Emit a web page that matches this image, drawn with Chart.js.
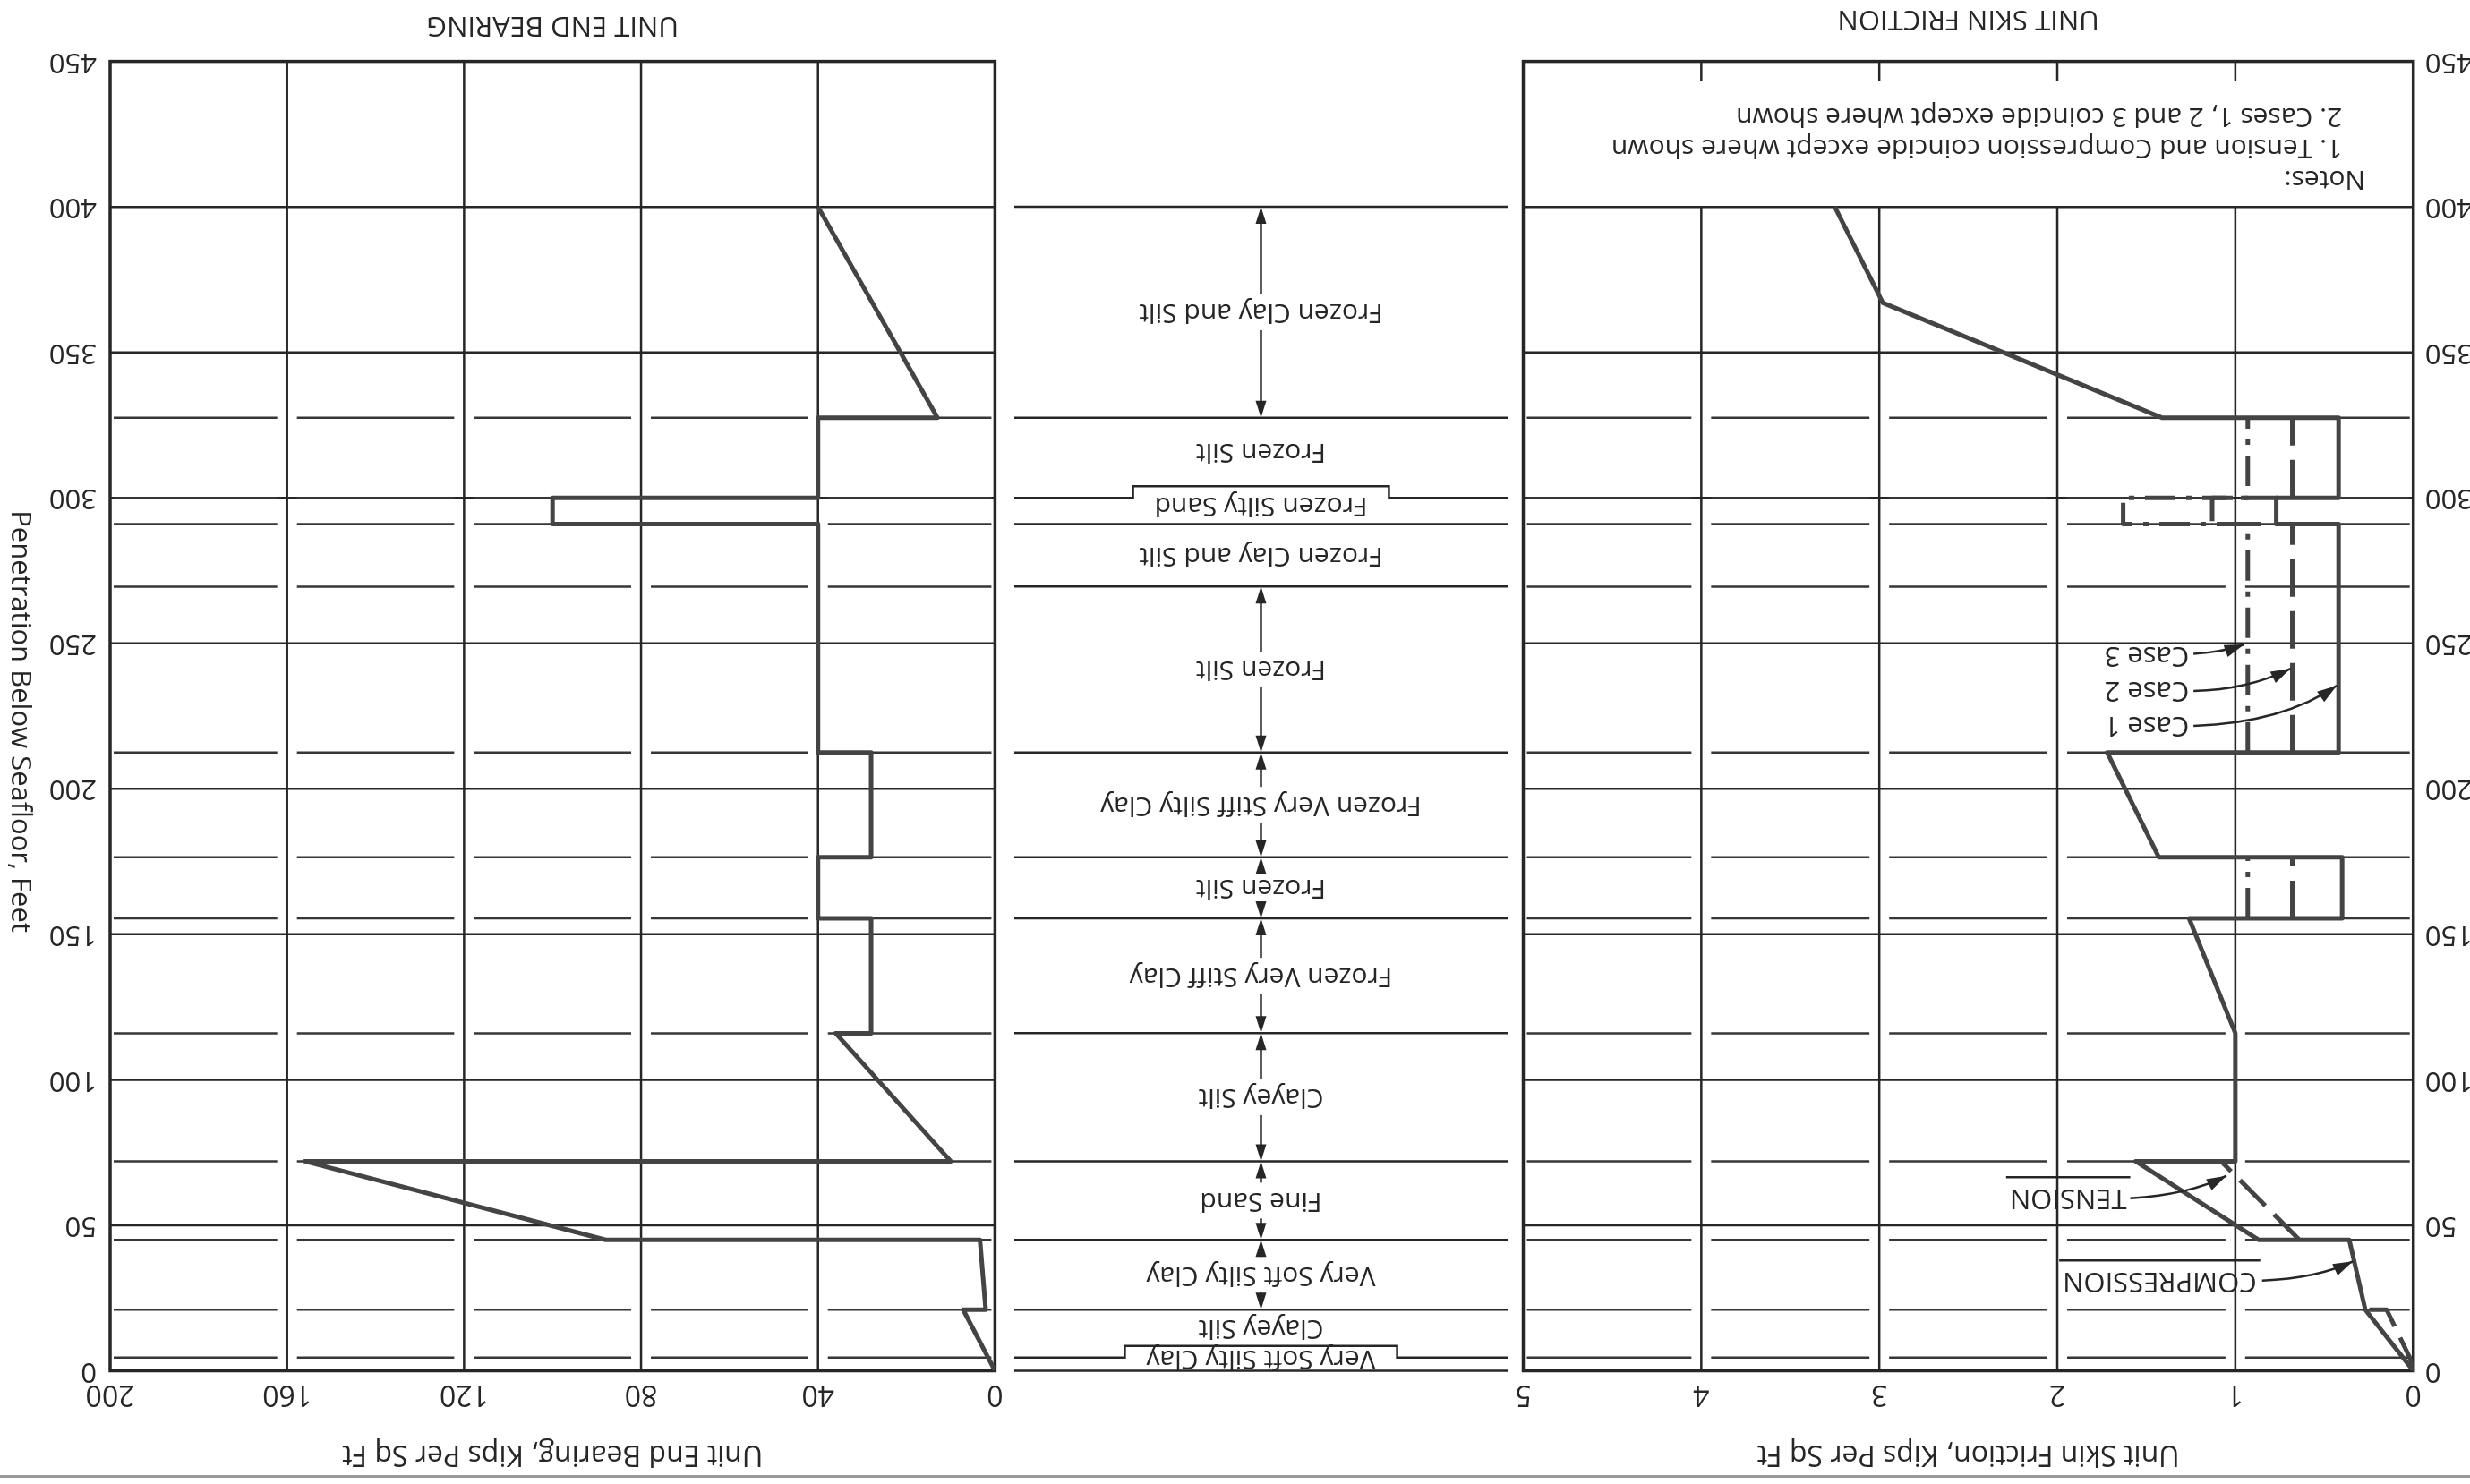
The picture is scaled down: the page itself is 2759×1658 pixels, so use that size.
<!DOCTYPE html>
<html lang="en">
<head>
<meta charset="utf-8">
<title>Unit skin friction and unit end bearing</title>
<script src="https://cdn.jsdelivr.net/npm/chart.js@4.4.1/dist/chart.umd.min.js"></script>
<style>
  html, body { margin: 0; padding: 0; background: #fff; overflow: hidden; }
  /* the scanned sheet is printed upside down, so the whole sheet is turned */
  #sheet { position: relative; width: 2759px; height: 1658px; transform: rotate(180deg); background: #fff; }
  #sheet canvas { position: absolute; top: 0; }
  #edge { position: absolute; left: 0; width: 2759px; top: 7px; border-top: 3px solid #9a9a9a; }
</style>
</head>
<body>
<div id="sheet">
  <div id="edge"></div>
  <canvas id="skin" width="1075" height="1658" style="left:0"></canvas>
  <canvas id="soil" width="568" height="1658" style="left:1060px"></canvas>
  <canvas id="bearing" width="1131" height="1658" style="left:1628px"></canvas>
</div>
<script>
const INK = '#262626';
const CURVE = '#444444';
const FONT = "'Open Sans', 'DejaVu Sans', sans-serif";
Chart.defaults.font.family = FONT;
Chart.defaults.color = INK;

// axes
const depthTicks = [0, 50, 100, 150, 200, 250, 300, 350, 400, 450];
const frictionTicks = [0, 1, 2, 3, 4, 5];
const bearingTicks = [0, 40, 80, 120, 160, 200];

// soil profile, feet below seafloor
const layerDepths = [0, 4.5, 21, 45, 72, 116, 155.5, 176.5, 212.5, 269.5, 291, 300, 327.5, 400];
const layerNames = [
  'Very Soft Silty Clay', 'Clayey Silt', 'Very Soft Silty Clay', 'Fine Sand', 'Clayey Silt',
  'Frozen Very Stiff Clay', 'Frozen Silt', 'Frozen Very Stiff Silty Clay', 'Frozen Silt',
  'Frozen Clay and Silt', 'Frozen Silty Sand', 'Frozen Silt', 'Frozen Clay and Silt'
];
const layerArrows = [false, false, true, true, true, true, true, true, true, false, false, false, true];
const boxedLayers = [0, 10];

// unit skin friction, kips per sq ft
// compression (cases 1, 2, 3 coincide except in the frozen silt zones, where this is case 1)
const compDepth    = [0, 21, 45, 45, 72, 72, 116, 155.5, 155.5, 176.5, 176.5, 212.5, 212.5, 291, 291, 300, 300, 327.5, 327.5, 367, 400];
const compFriction = [0, 0.27, 0.36, 0.87, 1.56, 1.0, 1.0, 1.26, 0.40, 0.40, 1.43, 1.72, 0.42, 0.42, 0.77, 0.77, 0.42, 0.42, 1.41, 2.98, 3.25];
// tension, only where it differs from compression
const tensionDepth    = [0, 4.5, 21, 21, null, 45, 72];
const tensionFriction = [0, 0.02, 0.15, 0.27, null, 0.64, 1.08];
const case2Depth    = [155.5, 176.5, null, 212.5, 291, 291, 300, 300, 327.5];
const case2Friction = [0.68, 0.68, null, 0.68, 0.68, 1.13, 1.13, 0.68, 0.68];
const case3Depth    = [155.5, 176.5, null, 212.5, 291, 291, 300, 300, 327.5];
const case3Friction = [0.93, 0.93, null, 0.93, 0.93, 1.63, 1.63, 0.93, 0.93];

// unit end bearing, kips per sq ft
const bearingDepth = [0, 21, 21, 45, 45, 72, 72, 116, 116, 155.5, 155.5, 176.5, 176.5, 212.5, 212.5, 291, 291, 300, 300, 327.5, 327.5, 400];
const bearingValue = [0, 7.2, 2.1, 3.4, 88, 156, 10, 36, 28, 28, 40, 40, 28, 28, 40, 40, 100, 100, 40, 40, 13, 40];

const pts = (xs, ys) => xs.map((v, i) => ({x: v, y: ys[i]}));

function seg(ctx, x0, y0, x1, y1) {
  ctx.beginPath(); ctx.moveTo(x0, y0); ctx.lineTo(x1, y1); ctx.stroke();
}
function head(ctx, fx, fy, tx, ty, len, half) {
  const a = Math.atan2(ty - fy, tx - fx);
  const bx = tx - len * Math.cos(a), by = ty - len * Math.sin(a);
  ctx.beginPath();
  ctx.moveTo(tx, ty);
  ctx.lineTo(bx + half * Math.sin(a), by - half * Math.cos(a));
  ctx.lineTo(bx - half * Math.sin(a), by + half * Math.cos(a));
  ctx.closePath(); ctx.fill();
}

// grid: full lines every 50 ft, layer boundaries broken at the verticals
const panelGrid = {
  id: 'panelGrid',
  beforeDatasetsDraw(chart, args, opts) {
    const {ctx, chartArea: a, scales: {x, y}} = chart;
    ctx.save();
    ctx.strokeStyle = INK;
    ctx.lineWidth = 2.5;
    depthTicks.forEach(d => seg(ctx, a.left, y.getPixelForValue(d), a.right, y.getPixelForValue(d)));
    opts.cols.slice(1, -1).forEach(v => {
      const px = x.getPixelForValue(v);
      seg(ctx, px, y.getPixelForValue(0), px, y.getPixelForValue(opts.gridTo));
      if (opts.gridTo < 450) seg(ctx, px, y.getPixelForValue(450), px, y.getPixelForValue(450) - 22);
    });
    ctx.strokeStyle = '#363636';
    layerDepths.slice(1, -1).forEach(d => {
      const py = y.getPixelForValue(d);
      for (let i = 0; i < opts.cols.length - 1; i++) {
        const x0 = x.getPixelForValue(opts.cols[i]) + (i === 0 ? 4 : 11);
        const x1 = x.getPixelForValue(opts.cols[i + 1]) - (i === opts.cols.length - 2 ? 4 : 11);
        seg(ctx, x0, py, x1, py);
      }
    });
    ctx.strokeStyle = INK;
    ctx.lineWidth = 3.5;
    ctx.strokeRect(a.left, a.top, a.right - a.left, a.bottom - a.top);
    ctx.restore();
  }
};

const skinNotes = {
  id: 'skinNotes',
  afterDatasetsDraw(chart) {
    const {ctx, scales: {x, y}} = chart;
    const X = f => x.getPixelForValue(f), Y = d => y.getPixelForValue(d);
    ctx.save();
    ctx.fillStyle = INK; ctx.strokeStyle = INK;
    ctx.font = `30px ${FONT}`;
    ctx.textAlign = 'left'; ctx.textBaseline = 'middle';
    ctx.fillText('Notes:', X(0.27), Y(409.7));
    ctx.fillText('1. Tension and Compression coincide except where shown', X(0.40), Y(420.5));
    ctx.fillText('2. Cases 1, 2 and 3 coincide except where shown', X(0.40), Y(431.2));

    ctx.font = `31px ${FONT}`;
    const leaders = [
      {text: 'TENSION', at: [1.61, 59.5], from: [1.59, 59.3], via: [1.26, 60.5], to: [1.05, 67], rule: 66.5},
      {text: 'COMPRESSION', at: [0.88, 31], from: [0.85, 31], via: [0.54, 31.8], to: [0.34, 37.6], rule: 37.9},
      {text: 'Case 1', at: [1.26, 222], from: [1.235, 221.6], via: [0.73, 222.7], to: [0.43, 235.5]},
      {text: 'Case 2', at: [1.26, 234], from: [1.235, 233.6], via: [0.93, 234], to: [0.69, 241.3]},
      {text: 'Case 3', at: [1.26, 246], from: [1.235, 246.4], via: [1.07, 247], to: [0.95, 249.6]}
    ];
    leaders.forEach(l => {
      ctx.fillText(l.text, X(l.at[0]), Y(l.at[1]));
      ctx.lineWidth = 2.5;
      if (l.rule !== undefined) {
        const w = ctx.measureText(l.text).width;
        seg(ctx, X(l.at[0]) - 4, Y(l.rule), X(l.at[0]) + w + 4, Y(l.rule));
      }
      ctx.beginPath();
      ctx.moveTo(X(l.from[0]), Y(l.from[1]));
      ctx.quadraticCurveTo(X(l.via[0]), Y(l.via[1]), X(l.to[0]), Y(l.to[1]));
      ctx.stroke();
      head(ctx, X(l.via[0]), Y(l.via[1]), X(l.to[0]), Y(l.to[1]), 22, 7);
    });
    ctx.restore();
  }
};

const soilColumn = {
  id: 'soilColumn',
  afterDraw(chart) {
    const {ctx, chartArea: a, scales: {x, y}} = chart;
    const cx = x.getPixelForValue(0.5);
    const DROP = 4;
    ctx.save();
    ctx.strokeStyle = INK; ctx.fillStyle = INK; ctx.lineWidth = 2.5;
    ctx.font = `30px ${FONT}`;
    ctx.textAlign = 'center'; ctx.textBaseline = 'middle';
    layerDepths.forEach((d, i) => {
      const py = y.getPixelForValue(d);
      if (boxedLayers.includes(i - 1)) {
        const half = ctx.measureText(layerNames[i - 1]).width / 2 + 24;
        const pb = y.getPixelForValue(d + DROP);
        ctx.beginPath();
        ctx.moveTo(a.left, py); ctx.lineTo(cx - half, py); ctx.lineTo(cx - half, pb);
        ctx.lineTo(cx + half, pb); ctx.lineTo(cx + half, py); ctx.lineTo(a.right, py);
        ctx.stroke();
      } else {
        seg(ctx, a.left, py, a.right, py);
      }
    });
    layerNames.forEach((name, i) => {
      const yTop = y.getPixelForValue(layerDepths[i] + (boxedLayers.includes(i - 1) ? DROP : 0));
      const yBot = y.getPixelForValue(layerDepths[i + 1] + (boxedLayers.includes(i) ? DROP : 0));
      const cy = (yTop + yBot) / 2;
      ctx.fillText(name, cx, cy);
      if (layerArrows[i]) {
        seg(ctx, cx, cy - 20, cx, yTop + 6);
        head(ctx, cx, cy - 20, cx, yTop, 19, 6);
        seg(ctx, cx, cy + 20, cx, yBot - 6);
        head(ctx, cx, cy + 20, cx, yBot, 19, 6);
      }
    });
    ctx.restore();
  }
};

const depthTitle = {
  id: 'depthTitle',
  afterDraw(chart) {
    const {ctx, chartArea: a} = chart;
    ctx.save();
    ctx.translate(chart.width - 22, (a.top + a.bottom) / 2 - 6);
    ctx.rotate(-Math.PI / 2);
    ctx.fillStyle = INK;
    ctx.font = `31px ${FONT}`;
    ctx.textAlign = 'center'; ctx.textBaseline = 'middle';
    ctx.fillText('Penetration Below Seafloor, Feet', 0, 0);
    ctx.restore();
  }
};

function depthAxis(position, width, pad) {
  return {
    type: 'linear', position, reverse: true, min: 0, max: 450,
    afterBuildTicks: s => { s.ticks = depthTicks.map(v => ({value: v})); },
    afterFit: s => { s.width = width; },
    grid: {display: false, drawTicks: false},
    border: {display: false},
    ticks: {autoSkip: false, padding: pad, color: INK, font: {size: 31}}
  };
}
function valueAxis(tickList, max, title) {
  return {
    type: 'linear', position: 'top', min: 0, max,
    afterBuildTicks: s => { s.ticks = tickList.map(v => ({value: v})); },
    afterFit: s => { s.height = 126.5; },
    grid: {display: false, drawTicks: false},
    border: {display: false},
    ticks: {autoSkip: false, maxRotation: 0, padding: 6, color: INK, font: {size: 32}},
    title: {display: true, text: title, color: INK, font: {size: 32}, padding: {top: 15, bottom: 0}}
  };
}
const lineStyle = {showLine: true, pointRadius: 0, fill: false, tension: 0, spanGaps: false,
  borderColor: CURVE, borderWidth: 5, borderJoinStyle: 'round'};

new Chart(document.getElementById('skin'), {
  type: 'scatter',
  data: {
    datasets: [
      {...lineStyle, label: 'Compression / Case 1', data: pts(compFriction, compDepth)},
      {...lineStyle, label: 'Tension', data: pts(tensionFriction, tensionDepth), borderDash: [40, 14]},
      {...lineStyle, label: 'Case 2', data: pts(case2Friction, case2Depth), borderDash: [42, 16]},
      {...lineStyle, label: 'Case 3', data: pts(case3Friction, case3Depth), borderDash: [34, 12, 6, 12]}
    ]
  },
  options: {
    responsive: false, animation: false, events: [],
    layout: {padding: {left: 0, right: 17.5, top: 0, bottom: 0}},
    scales: {
      x: valueAxis(frictionTicks, 5, 'Unit Skin Friction, Kips Per Sq Ft'),
      y: depthAxis('left', 63.3, 13)
    },
    plugins: {
      legend: {display: false}, tooltip: {enabled: false},
      title: {display: true, text: 'UNIT SKIN FRICTION', position: 'bottom', fullSize: false,
        color: INK, font: {size: 31, weight: 'normal'}, padding: {top: 29, bottom: 2.4}},
      panelGrid: {cols: frictionTicks, gridTo: 400}
    }
  },
  plugins: [panelGrid, skinNotes]
});

new Chart(document.getElementById('soil'), {
  type: 'scatter',
  data: {datasets: []},
  options: {
    responsive: false, animation: false, events: [],
    layout: {padding: {left: 15, right: 2, top: 126.5, bottom: 68.5}},
    scales: {
      x: {type: 'linear', min: 0, max: 1, display: false},
      y: {type: 'linear', min: 0, max: 450, reverse: true, display: false}
    },
    plugins: {legend: {display: false}, tooltip: {enabled: false}}
  },
  plugins: [soilColumn]
});

new Chart(document.getElementById('bearing'), {
  type: 'scatter',
  data: {
    datasets: [
      {...lineStyle, label: 'End bearing', data: pts(bearingValue, bearingDepth)}
    ]
  },
  options: {
    responsive: false, animation: false, events: [],
    layout: {padding: {left: 19.6, right: 0, top: 0, bottom: 0}},
    scales: {
      x: valueAxis(bearingTicks, 200, 'Unit End Bearing, Kips Per Sq Ft'),
      y: depthAxis('right', 123, 15)
    },
    plugins: {
      legend: {display: false}, tooltip: {enabled: false},
      title: {display: true, text: 'UNIT END BEARING', position: 'bottom', fullSize: false,
        color: INK, font: {size: 31, weight: 'normal'}, padding: {top: 22, bottom: 9.4}},
      panelGrid: {cols: bearingTicks, gridTo: 450}
    }
  },
  plugins: [panelGrid, depthTitle]
});
</script>
</body>
</html>
